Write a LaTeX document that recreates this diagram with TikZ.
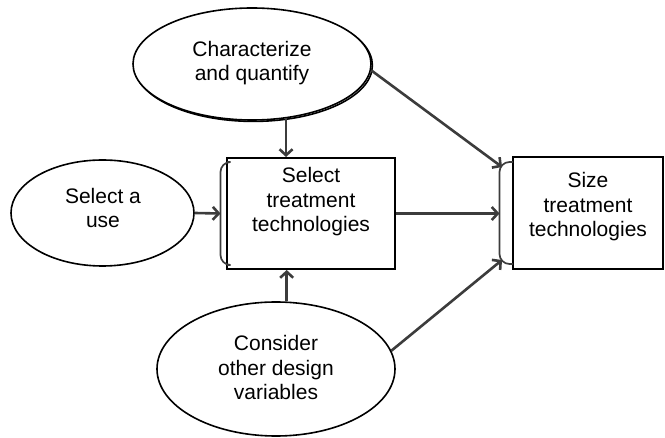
\documentclass[tikz,border=0pt]{standalone}
\usepackage{fontspec}
\setmainfont{Liberation Sans}
\usetikzlibrary{shapes.geometric,arrows.meta}
\definecolor{arrgray}{HTML}{3C3C3C}
\tikzset{
  oval/.style={ellipse, draw=black, line width=1.6pt, fill=white, inner sep=0pt},
  stepbox/.style={rectangle, draw=black, line width=2pt, inner sep=0pt},
  txt/.style={align=center, inner sep=0pt, font=\fontsize{21}{24.5}\selectfont},
  arr/.style={draw=arrgray, line width=2.6pt, -{Straight Barb[length=6pt,width=13pt]}},
  brk/.style={draw=arrgray, line width=1.7pt, rounded corners=10pt},
}
\begin{document}
\begin{tikzpicture}[x=1pt,y=-1pt]
\useasboundingbox (0,0) rectangle (665,438);
% top ellipse with offset outline
\node[oval, minimum width=238pt, minimum height=112pt] (cqs) at (253.4,65.4) {};
\node[oval, minimum width=238pt, minimum height=112pt] (cq) at (252,64) {};
\node[txt] (cqt) at (252,63) {Characterize\\and quantify};
% left ellipse
\node[oval, minimum width=183pt, minimum height=106pt] (use) at (102.5,213) {};
\node[txt] (uset) at (103,208) {Select a\\use};
% bottom ellipse
\node[oval, minimum width=238pt, minimum height=134pt] (cons) at (276,369) {};
\node[txt] (const) at (276,367.5) {Consider\\other design\\variables};
% boxes
\node[stepbox, minimum width=168pt, minimum height=111pt] (sel) at (311,213.5) {};
\node[txt] (selt) at (311,202) {Select\\treatment\\technologies};
\node[stepbox, minimum width=150pt, minimum height=112pt] (size) at (588,213) {};
\node[txt] (sizet) at (588,207) {Size\\treatment\\technologies};
% brackets
\draw[brk] (227,162) -- (220.5,162) -- (220.5,265) -- (227,265);
\draw[brk] (513,162) -- (499.5,162) -- (499.5,264) -- (513,264);
\coordinate (selb) at (220.5,213.5);
\coordinate (sizeb) at (499.5,213.5);
\coordinate (sizebt) at (502,167);
\coordinate (sizebb) at (502,260);
% connectors
\draw[arr] (cq.-58.6) -- (cq.-58.6 |- sel.north);
\draw[arr] (cons.81.5) -- (cons.81.5 |- sel.south);
\draw[arr] (use.east) -- (selb);
\draw[arr] (sel.east) -- (sizeb);
\draw[arr] (cq.-3.5) -- (sizebt);
\draw[arr] (cons.9.3) -- (sizebb);
\end{tikzpicture}
\end{document}
